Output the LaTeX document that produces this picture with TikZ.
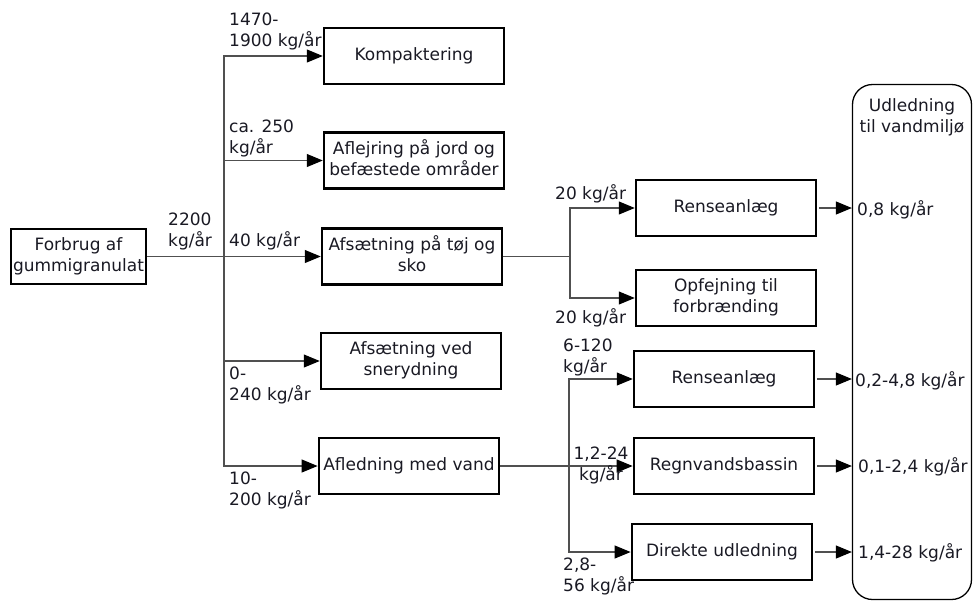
\documentclass[tikz,border=0pt]{standalone}
\usepackage{fontspec}
\setmainfont{DejaVu Sans}
\usetikzlibrary{arrows.meta}
\definecolor{inkline}{RGB}{80,80,80}
\definecolor{inktext}{RGB}{25,25,35}
\newcommand{\boxlines}[1]{\lower3pt\hbox{\begin{tabular}{@{}c@{}}#1\end{tabular}}}
\tikzset{
  box/.style={draw, line width=2.5pt, minimum width=180pt, minimum height=56pt, inner sep=1pt},
  flow/.style={line width=1.1pt, draw=inkline},
  qty/.style={inner sep=0pt, anchor=west, align=left},
}
\begin{document}
\begin{tikzpicture}[x=1pt, y=1pt, font=\fontsize{17}{21}\selectfont, text=inktext,
  >={Triangle[length=16pt,width=13pt,color=black]}]
\useasboundingbox (0,0) rectangle (973,-603);
% left column
\node[box, minimum width=135pt, minimum height=55pt] (forbrug) at (78.5,-256.5) {\boxlines{Forbrug af\\gummigranulat}};
\node[box] (kompakt) at (414,-56) {\boxlines{Kompaktering}};
\node[box] (aflejr) at (414,-160.5) {\boxlines{Aflejring på jord og\\befæstede områder}};
\node[box] (afstoej) at (412,-256.5) {\boxlines{Afsætning på tøj og\\sko}};
\node[box] (afssne) at (411,-361) {\boxlines{Afsætning ved\\snerydning}};
\node[box, line width=2.8pt] (afled) at (409,-466) {\boxlines{Afledning med vand}};
% right column
\node[box] (rense1) at (726,-208) {\boxlines{Renseanlæg}};
\node[box] (opfej) at (726,-298) {\boxlines{Opfejning til\\forbrænding}};
\node[box] (rense2) at (724,-379) {\boxlines{Renseanlæg}};
\node[box, line width=2.8pt] (regn) at (724,-466) {\boxlines{Regnvandsbassin}};
\node[box, line width=2.8pt] (direkte) at (722,-552) {\boxlines{Direkte udledning}};
\node[draw, line width=1.3pt, rounded corners=20pt, minimum width=119pt, minimum height=515pt] (udled) at (912,-342) {};
\node[align=center, inner sep=0pt] (udtitel) at (912,-117) {Udledning\\til vandmiljø};
% branch points
\coordinate (split1) at (224,-256.5);
\coordinate (split2) at (570,-256.5);
\coordinate (split3) at (569,-466);
\draw[flow,->] (forbrug.east) -- (afstoej.west);
\draw[flow,->] (split1) |- (kompakt.west);
\draw[flow,->] (split1) |- (aflejr.west);
\draw[flow,->] (split1) |- (afssne.west);
\draw[flow,->] (split1) |- (afled.west);
\draw[flow] (afstoej.east) -- (split2);
\draw[flow,->] (split2) |- (rense1.west);
\draw[flow,->] (split2) |- (opfej.west);
\draw[flow,->] (afled.east) -- (regn.west);
\draw[flow,->] (split3) |- (rense2.west);
\draw[flow,->] (split3) |- (direkte.west);
\foreach \n in {rense1,rense2,regn,direkte}
  \draw[flow,->] ([xshift=2pt]\n.east) -- (\n.east -| udled.west);
% amounts
\node[qty] (q2200) at (168,-231.5) {2200\\kg/år};
\node[qty] (q1470) at (229,-31.5) {1470-\\1900 kg/år};
\node[qty] (q250) at (229,-138) {ca. 250\\kg/år};
\node[qty] (q40) at (229,-241) {40 kg/år};
\node[qty] (q0) at (229,-385) {0-\\240 kg/år};
\node[qty] (q10) at (229,-490.5) {10-\\200 kg/år};
\node[qty] (q20a) at (555,-194) {20 kg/år};
\node[qty] (q20b) at (555,-318) {20 kg/år};
\node[qty] (q6) at (563,-357.5) {6-120\\kg/år};
\node[inner sep=0pt, align=center] (q12) at (601,-465.5) {1,2-24\\kg/år};
\node[qty] (q28) at (563,-576) {2,8-\\56 kg/år};
\node[qty] (u08) at (857,-210) {0,8 kg/år};
\node[qty] (u02) at (855,-381) {0,2-4,8 kg/år};
\node[qty] (u01) at (858,-467) {0,1-2,4 kg/år};
\node[qty] (u14) at (858,-553) {1,4-28 kg/år};
\end{tikzpicture}
\end{document}
